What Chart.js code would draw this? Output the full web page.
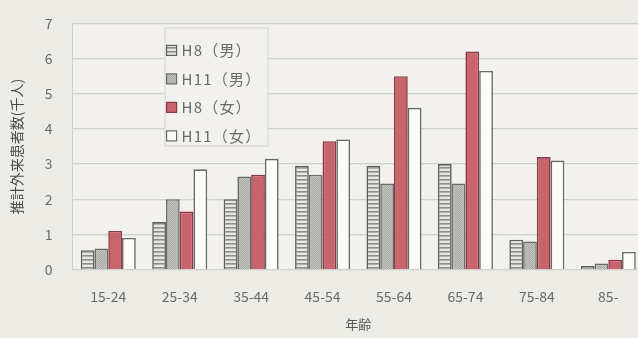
<!DOCTYPE html>
<html>
<head>
<meta charset="utf-8">
<script src="https://cdn.jsdelivr.net/npm/chart.js@4"></script>
<style>
  html, body { margin: 0; padding: 0; overflow: hidden; background: #ecebe6; }
  #wrap { width: 646px; height: 338px; margin-top: -5px; }
</style>
</head>
<body>
<div id="wrap"><canvas id="c" width="646" height="338"></canvas></div>
<script>
// 年齢階級別の推計外来患者数（千人）
const ageGroups = ['15-24', '25-34', '35-44', '45-54', '55-64', '65-74', '75-84', '85-'];
const seriesNames = ['H8（男）', 'H11（男）', 'H8（女）', 'H11（女）'];
const h8Male    = [0.55, 1.35, 2.0, 2.95, 2.95, 3.0, 0.85, 0.1];
const h11Male   = [0.6, 2.0, 2.65, 2.7, 2.45, 2.45, 0.8, 0.17];
const h8Female  = [1.1, 1.65, 2.7, 3.65, 5.5, 6.2, 3.2, 0.28];
const h11Female = [0.9, 2.85, 3.15, 3.7, 4.6, 5.65, 3.1, 0.5];
const yTicks = [0, 1, 2, 3, 4, 5, 6, 7];

const FONT = '"Noto Sans CJK JP", "Noto Sans", sans-serif';

function makePattern(w, h, draw) {
  const cv = document.createElement('canvas');
  cv.width = w; cv.height = h;
  const g = cv.getContext('2d');
  draw(g);
  return document.getElementById('c').getContext('2d').createPattern(cv, 'repeat');
}
// 横縞（H8 男）
const stripes = makePattern(4, 4, g => {
  g.fillStyle = '#e6e6e2'; g.fillRect(0, 0, 4, 4);
  g.fillStyle = '#8c8c8a'; g.fillRect(0, 0, 4, 1.6);
});
// 細かい網点（H11 男）
const dots = makePattern(2, 2, g => {
  g.fillStyle = '#c4c4c0'; g.fillRect(0, 0, 2, 2);
  g.fillStyle = '#a8a8a6'; g.fillRect(0, 0, 1, 1); g.fillRect(1, 1, 1, 1);
});

const datasets = [
  { label: seriesNames[0], data: h8Male,    backgroundColor: stripes,   borderColor: '#5e5e5c' },
  { label: seriesNames[1], data: h11Male,   backgroundColor: dots,      borderColor: '#6a6a6a' },
  { label: seriesNames[2], data: h8Female,  backgroundColor: '#c8646c', borderColor: '#8a3840' },
  { label: seriesNames[3], data: h11Female, backgroundColor: '#fbfbf9', borderColor: '#686866' }
].map(d => Object.assign(d, { borderWidth: 1.6, borderSkipped: 'bottom' }));

// 凡例をプロット内の枠に描く
const insetLegend = {
  id: 'insetLegend',
  afterDraw(chart) {
    const ctx = chart.ctx;
    const x = chart.chartArea.left + 92, y = chart.chartArea.top + 4;
    const w = 103, h = 118;
    ctx.save();
    ctx.fillStyle = '#f2f1ed';
    ctx.strokeStyle = '#d6d5d0';
    ctx.lineWidth = 1;
    ctx.fillRect(x, y, w, h);
    ctx.strokeRect(x + 0.5, y + 0.5, w, h);
    ctx.font = '15px ' + FONT;
    ctx.letterSpacing = '1.2px';
    ctx.textBaseline = 'middle';
    chart.data.datasets.forEach((ds, i) => {
      const cy = y + 23 + i * 28.5;
      ctx.fillStyle = ds.backgroundColor;
      ctx.fillRect(x + 2, cy - 5, 10, 10);
      ctx.strokeStyle = ds.borderColor;
      ctx.lineWidth = 1.2;
      ctx.strokeRect(x + 2, cy - 5, 10, 10);
      ctx.fillStyle = '#6a6a68';
      ctx.fillText(ds.label, x + 17, cy);
    });
    ctx.restore();
  }
};

// プロット領域の背景
const plotBg = {
  id: 'plotBg',
  beforeDraw(chart) {
    const a = chart.chartArea, ctx = chart.ctx;
    ctx.save();
    ctx.fillStyle = '#f2f1ed';
    ctx.fillRect(a.left, a.top, a.right - a.left, a.bottom - a.top);
    ctx.restore();
  }
};

new Chart(document.getElementById('c'), {
  type: 'bar',
  data: { labels: ageGroups, datasets },
  plugins: [plotBg, insetLegend],
  options: {
    responsive: false,
    animation: false,
    layout: { padding: { top: 3, right: 2, bottom: 0, left: 4 } },
    categoryPercentage: 0.77,
    barPercentage: 1.0,
    plugins: { legend: { display: false }, tooltip: { enabled: false } },
    scales: {
      x: {
        grid: { display: false },
        border: { display: true, color: '#cfcfcb' },
        ticks: { color: '#6a6a68', font: { family: FONT, size: 14 }, padding: 11 },
        title: { display: true, text: '年齢', color: '#555553', font: { family: FONT, size: 13 }, padding: { top: 0, bottom: 1 } }
      },
      y: {
        min: 0, max: 7,
        afterBuildTicks: axis => { axis.ticks = yTicks.map(v => ({ value: v })); },
        grid: { color: '#cfcfcb', lineWidth: 1.2, drawTicks: false },
        border: { display: true, color: '#cfcfcb' },
        ticks: { color: '#6a6a68', font: { family: FONT, size: 14 }, padding: 20 },
        title: { display: true, text: '推計外来患者数(千人)', color: '#4a4a48', font: { family: FONT, size: 14 }, padding: { bottom: 0 } }
      }
    }
  }
});
</script>
</body>
</html>
